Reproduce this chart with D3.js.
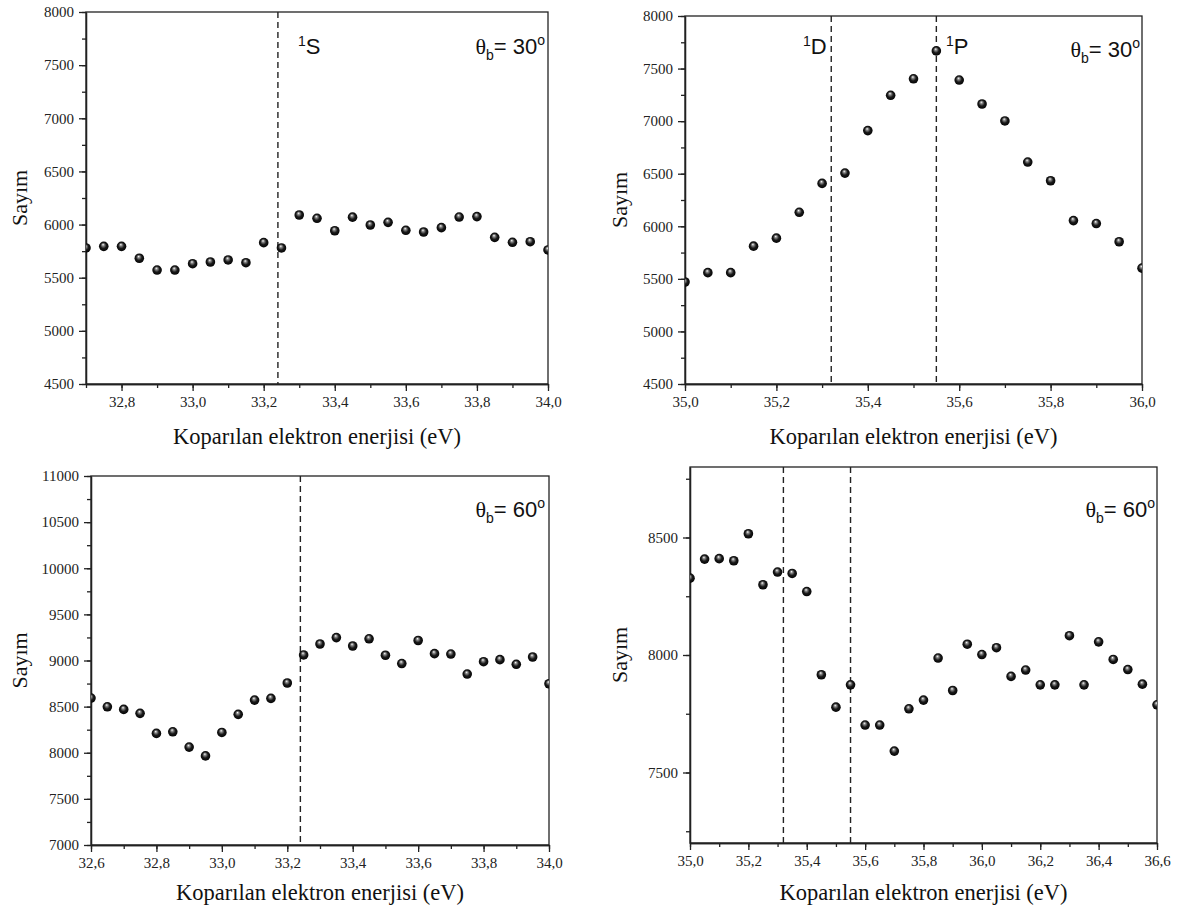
<!DOCTYPE html>
<html>
<head>
<meta charset="utf-8">
<script src="https://cdn.jsdelivr.net/npm/d3@7"></script>
<style>
  body { margin: 0; background: #fff; }
  svg { display: block; }
  .tick line, .domain { stroke: #222; stroke-width: 1.3; }
</style>
</head>
<body>
<svg id="chart" width="1183" height="917"></svg>
<script>
// theta_b = 30, 1S region
const panel1X = [32.70, 32.75, 32.80, 32.85, 32.90, 32.95, 33.00, 33.05, 33.10, 33.15, 33.20, 33.25, 33.30, 33.35,
  33.40, 33.45, 33.50, 33.55, 33.60, 33.65, 33.70, 33.75, 33.80, 33.85, 33.90, 33.95, 34.00];
const panel1Y = [5780, 5795, 5795, 5683, 5572, 5572, 5632, 5648, 5667, 5641, 5830, 5780, 6090, 6059,
  5942, 6070, 5996, 6021, 5946, 5930, 5971, 6071, 6075, 5880, 5833, 5839, 5761];

// theta_b = 30, 1D / 1P region
const panel2X = [35.00, 35.05, 35.10, 35.15, 35.20, 35.25, 35.30, 35.35, 35.40, 35.45, 35.50,
  35.55, 35.60, 35.65, 35.70, 35.75, 35.80, 35.85, 35.90, 35.95, 36.00];
const panel2Y = [5470, 5559, 5559, 5811, 5887, 6133, 6408, 6506, 6910, 7246, 7403,
  7668, 7391, 7163, 7002, 6611, 6433, 6054, 6026, 5853, 5602];

// theta_b = 60, 1S region
const panel3X = [32.60, 32.65, 32.70, 32.75, 32.80, 32.85, 32.90, 32.95, 33.00, 33.05, 33.10, 33.15, 33.20,
  33.25, 33.30, 33.35, 33.40, 33.45, 33.50, 33.55, 33.60, 33.65, 33.70, 33.75, 33.80, 33.85, 33.90, 33.95, 34.00];
const panel3Y = [8593, 8498, 8470, 8427, 8210, 8227, 8061, 7966, 8220, 8416, 8571, 8589, 8756,
  9060, 9179, 9248, 9157, 9235, 9057, 8967, 9217, 9074, 9070, 8853, 8987, 9009, 8959, 9038, 8748];

// theta_b = 60, 1D / 1P region
const panel4X = [35.00, 35.05, 35.10, 35.15, 35.20, 35.25, 35.30, 35.35, 35.40, 35.45, 35.50, 35.55,
  35.60, 35.65, 35.70, 35.75, 35.80, 35.85, 35.90, 35.95, 36.00, 36.05, 36.10, 36.15, 36.20, 36.25,
  36.30, 36.35, 36.40, 36.45, 36.50, 36.55, 36.60];
const panel4Y = [8327, 8408, 8410, 8401, 8516, 8299, 8353, 8347, 8270, 7916, 7778, 7873,
  7702, 7702, 7591, 7771, 7808, 7987, 7849, 8046, 8002, 8031, 7909, 7936, 7873, 7873,
  8082, 7873, 8056, 7981, 7938, 7876, 7788];

// tick values
const xTicks1 = [32.8, 33.0, 33.2, 33.4, 33.6, 33.8, 34.0];
const xTicks2 = [35.0, 35.2, 35.4, 35.6, 35.8, 36.0];
const xTicks3 = [32.6, 32.8, 33.0, 33.2, 33.4, 33.6, 33.8, 34.0];
const xTicks4 = [35.0, 35.2, 35.4, 35.6, 35.8, 36.0, 36.2, 36.4, 36.6];
const yTicks1 = [4500, 5000, 5500, 6000, 6500, 7000, 7500, 8000];
const yTicks3 = [7000, 7500, 8000, 8500, 9000, 9500, 10000, 10500, 11000];
const yTicks4 = [7500, 8000, 8500];

// resonance positions (dashed lines)
const linesS = [33.24];
const linesDP = [35.32, 35.55];

const xTitle = "Koparılan elektron enerjisi (eV)";
const yTitle = "Sayım";

const panels = [
  { xs: panel1X, ys: panel1Y, box: [86, 548, 12, 384], xDomain: [32.7, 34.0], yDomain: [4500, 8000],
    xTicks: xTicks1, yTicks: yTicks1, lines: linesS, angle: "30",
    states: [{ s: "S", x: 298, y: 54 }], theta: [545, 54], yTitleX: 20, xTitleY: 444 },
  { xs: panel2X, ys: panel2Y, box: [685, 1142, 16, 384], xDomain: [35.0, 36.0], yDomain: [4500, 8000],
    xTicks: xTicks2, yTicks: yTicks1, lines: linesDP, angle: "30",
    states: [{ s: "D", x: 803, y: 54 }, { s: "P", x: 946, y: 54 }], theta: [1140, 57], yTitleX: 620, xTitleY: 444 },
  { xs: panel3X, ys: panel3Y, box: [91, 549, 476, 845], xDomain: [32.6, 34.0], yDomain: [7000, 11000],
    xTicks: xTicks3, yTicks: yTicks3, lines: linesS, angle: "60",
    states: [], theta: [545, 517], yTitleX: 20, xTitleY: 900 },
  { xs: panel4X, ys: panel4Y, box: [690, 1157, 467, 843], xDomain: [35.0, 36.6], yDomain: [7200, 8800],
    xTicks: xTicks4, yTicks: yTicks4, lines: linesDP, angle: "60",
    states: [], theta: [1155, 517], yTitleX: 620, xTitleY: 900 }
];

const svg = d3.select("#chart");
const defs = svg.append("defs");

// shiny black ball marker
const grad = defs.append("radialGradient")
  .attr("id", "ball")
  .attr("cx", "0.5").attr("cy", "0.5").attr("r", "0.55")
  .attr("fx", "0.42").attr("fy", "0.3");
grad.append("stop").attr("offset", "0").attr("stop-color", "#ffffff");
grad.append("stop").attr("offset", "0.22").attr("stop-color", "#8a8a8a");
grad.append("stop").attr("offset", "0.55").attr("stop-color", "#1a1a1a");
grad.append("stop").attr("offset", "1").attr("stop-color", "#000000");

const fmt = v => d3.format(".1f")(v).replace(".", ",");
const serif = "'Liberation Serif', 'Times New Roman', serif";
const sans = "'Liberation Sans', Arial, sans-serif";

function styleAxis(sel) {
  sel.attr("font-family", serif).attr("font-size", 15);
  sel.selectAll("text").attr("fill", "#222");
}

panels.forEach(function (p, i) {
  const [left, right, top, bottom] = p.box;

  const x = d3.scaleLinear().domain(p.xDomain).range([left, right]);
  const y = d3.scaleLinear().domain(p.yDomain).range([bottom, top]);

  const g = svg.append("g");

  defs.append("clipPath").attr("id", "clip" + i)
    .append("rect")
    .attr("x", left).attr("y", top)
    .attr("width", right - left).attr("height", bottom - top);

  // minor ticks
  const xMinor = d3.range(Math.round(p.xDomain[0] * 10), Math.round(p.xDomain[1] * 10) + 1).map(d => d / 10);
  const yMinor = d3.range(Math.ceil(p.yDomain[0] / 250) * 250, p.yDomain[1] + 1, 250);

  g.append("g")
    .attr("transform", `translate(0,${bottom})`)
    .call(d3.axisBottom(x).tickValues(xMinor).tickSize(4).tickSizeOuter(0).tickFormat(""));
  g.append("g")
    .attr("transform", `translate(${left},0)`)
    .call(d3.axisLeft(y).tickValues(yMinor).tickSize(4).tickSizeOuter(0).tickFormat(""));

  // major ticks
  g.append("g")
    .attr("transform", `translate(0,${bottom})`)
    .call(d3.axisBottom(x).tickValues(p.xTicks).tickSize(7).tickSizeOuter(0).tickPadding(5).tickFormat(fmt))
    .call(styleAxis);
  g.append("g")
    .attr("transform", `translate(${left},0)`)
    .call(d3.axisLeft(y).tickValues(p.yTicks).tickSize(7).tickSizeOuter(0).tickPadding(5).tickFormat(d3.format("d")))
    .call(styleAxis);

  // frame
  g.append("rect")
    .attr("x", left).attr("y", top)
    .attr("width", right - left).attr("height", bottom - top)
    .attr("fill", "none").attr("stroke", "#222").attr("stroke-width", 1.3);

  // dashed resonance lines
  g.selectAll(".res")
    .data(p.lines)
    .enter()
    .append("line")
    .attr("x1", d => x(d)).attr("x2", d => x(d))
    .attr("y1", top).attr("y2", bottom)
    .attr("stroke", "#222").attr("stroke-width", 1.4)
    .attr("stroke-dasharray", "6,4");

  // data points
  g.append("g")
    .attr("clip-path", `url(#clip${i})`)
    .selectAll("circle")
    .data(p.xs.map((v, k) => [v, p.ys[k]]))
    .enter()
    .append("circle")
    .attr("cx", d => x(d[0]))
    .attr("cy", d => y(d[1]))
    .attr("r", 4.8)
    .attr("fill", "url(#ball)");

  // state labels
  p.states.forEach(function (s) {
    const t = g.append("text")
      .attr("x", s.x).attr("y", s.y)
      .attr("font-family", sans).attr("font-size", 22).attr("fill", "#111");
    t.append("tspan").attr("font-size", 14).attr("dy", -8).text("1");
    t.append("tspan").attr("dy", 8).text(s.s);
  });

  // theta label
  const th = g.append("text")
    .attr("x", p.theta[0]).attr("y", p.theta[1])
    .attr("text-anchor", "end")
    .attr("font-family", sans).attr("font-size", 22).attr("fill", "#111");
  th.append("tspan").attr("font-family", serif).text("θ");
  th.append("tspan").attr("font-size", 14).attr("dy", 6).text("b");
  th.append("tspan").attr("dy", -6).text("= " + p.angle);
  th.append("tspan").attr("font-size", 14).attr("dy", -9).text("o");

  // axis titles
  g.append("text")
    .attr("x", (left + right) / 2).attr("y", p.xTitleY)
    .attr("text-anchor", "middle")
    .attr("font-family", serif).attr("font-size", 22.5).attr("fill", "#111")
    .text(xTitle);

  g.append("text")
    .attr("transform", `translate(${p.yTitleX + 7},${(top + bottom) / 2}) rotate(-90)`)
    .attr("text-anchor", "middle")
    .attr("font-family", serif).attr("font-size", 22).attr("fill", "#111")
    .text(yTitle);
});
</script>
</body>
</html>
